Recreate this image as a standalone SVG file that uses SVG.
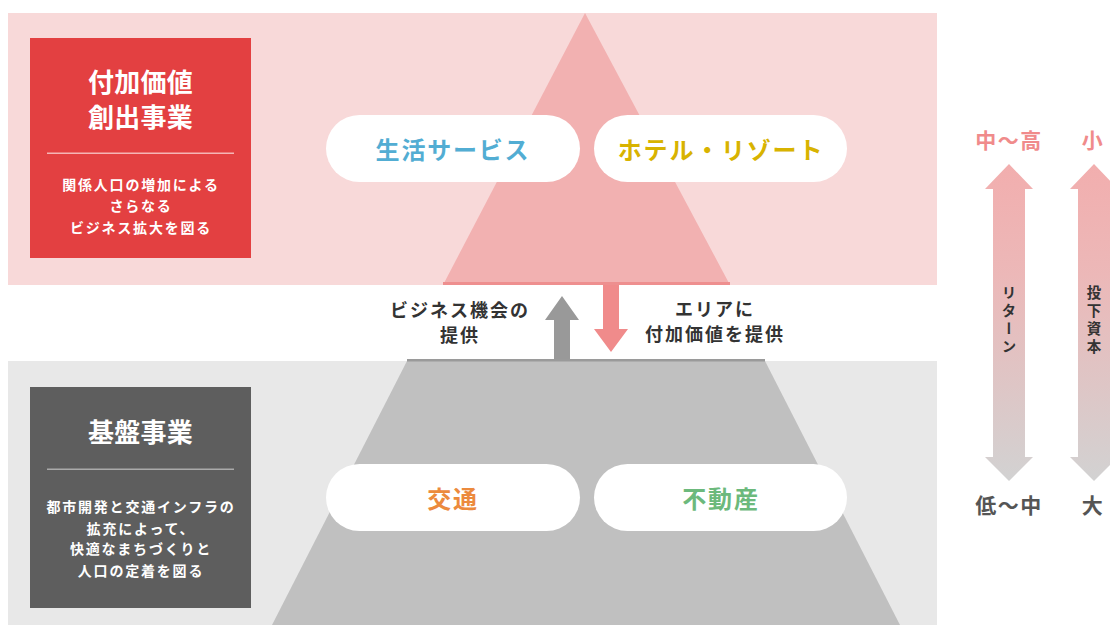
<svg xmlns="http://www.w3.org/2000/svg" width="1110" height="625" viewBox="0 0 1110 625">
<defs>
<style>
text{font-family:"Noto Sans CJK JP","Noto Sans CJK SC",sans-serif;font-weight:700;text-anchor:middle;dominant-baseline:central}
.pill{fill:#ffffff}
.ttl{font-size:26px;fill:#ffffff;letter-spacing:0.3px}
.sub{font-size:14px;fill:#ffffff;letter-spacing:1.8px}
.pt{font-size:24px;letter-spacing:1.8px}
.mid{font-size:18px;fill:#333333;letter-spacing:2px}
.rl{font-size:21px;letter-spacing:1.5px}
.vt{font-size:14.5px;fill:#333333;writing-mode:vertical-rl;letter-spacing:3.5px}
</style>
<linearGradient id="ag" x1="0" y1="0" x2="0" y2="1">
<stop offset="0" stop-color="#f2aeae"/>
<stop offset="0.35" stop-color="#ecb8b8"/>
<stop offset="1" stop-color="#d2d2d2"/>
</linearGradient>
</defs>
<rect width="1110" height="625" fill="#ffffff"/>
<g id="bands">
<rect x="8" y="13" width="929" height="272" fill="#f8d9d9"/>
<rect x="8" y="361" width="929" height="264" fill="#e8e8e8"/>
</g>
<g id="pyramid-top">
<polygon points="585,13 730,285 443,285" fill="#f2b1b1"/>
<rect x="443" y="282" width="287" height="3" fill="#ee8f8f"/>
</g>
<g id="pyramid-bottom">
<polygon points="407,361 765,361 900,625 272,625" fill="#c0c0c0"/>
<rect x="407" y="359" width="358" height="2.5" fill="#9a9a9a"/>
</g>
<g id="box-value">
<rect x="30" y="38" width="221" height="220" fill="#e34041"/>
<text class="ttl" x="140.5" y="80">付加価値</text>
<text class="ttl" x="140.5" y="115">創出事業</text>
<rect x="47" y="152.5" width="187" height="1.5" fill="#f5b5b5"/>
<text class="sub" x="141" y="184">関係人口の増加による</text>
<text class="sub" x="141" y="205">さらなる</text>
<text class="sub" x="141" y="227">ビジネス拡大を図る</text>
</g>
<g id="box-base">
<rect x="30" y="387" width="221" height="221" fill="#5e5e5e"/>
<text class="ttl" x="140.5" y="430">基盤事業</text>
<rect x="47" y="468.5" width="187" height="1.5" fill="#aaaaaa"/>
<text class="sub" x="141" y="506">都市開発と交通インフラの</text>
<text class="sub" x="141" y="528">拡充によって、</text>
<text class="sub" x="141" y="548">快適なまちづくりと</text>
<text class="sub" x="141" y="570">人口の定着を図る</text>
</g>
<g id="node-life">
<rect class="pill" x="326" y="115" width="254" height="67" rx="33.5"/>
<text class="pt" x="453" y="148.5" fill="#52add3">生活サービス</text>
</g>
<g id="node-hotel">
<rect class="pill" x="594" y="115" width="253" height="67" rx="33.5"/>
<text class="pt" x="721" y="148.5" fill="#d8b300">ホテル・リゾート</text>
</g>
<g id="node-transport">
<rect class="pill" x="326" y="464" width="254" height="67" rx="33.5"/>
<text class="pt" x="453" y="497.5" fill="#ec8a3d">交通</text>
</g>
<g id="node-realestate">
<rect class="pill" x="594" y="464" width="253" height="67" rx="33.5"/>
<text class="pt" x="721" y="497.5" fill="#6cb97c">不動産</text>
</g>
<g id="connectors">
<polygon points="562,296 579,320 570,320 570,359 554,359 554,320 545,320" fill="#999999"/>
<polygon points="603,285 619,285 619,329 628,329 611,352 594,329 603,329" fill="#f08b8b"/>
<polygon points="1009,164 1033,189 1025,189 1025,457 1033,457 1009,481 985,457 993,457 993,189 985,189" fill="url(#ag)"/>
<polygon points="1094,164 1118,189 1110,189 1110,457 1118,457 1094,481 1070,457 1078,457 1078,189 1070,189" fill="url(#ag)"/>
</g>
<g id="labels">
<text class="mid" x="460" y="309">ビジネス機会の</text>
<text class="mid" x="460" y="334">提供</text>
<text class="mid" x="715" y="308">エリアに</text>
<text class="mid" x="715" y="333">付加価値を提供</text>
<text class="rl" x="1009" y="139" fill="#f08b8b">中～高</text>
<text class="rl" x="1093" y="139" fill="#f08b8b">小</text>
<text class="rl" x="1009" y="504" fill="#555555">低～中</text>
<text class="rl" x="1093" y="504" fill="#555555">大</text>
<text class="vt" x="1009" y="321">リターン</text>
<text class="vt" x="1094" y="321">投下資本</text>
</g>
</svg>
